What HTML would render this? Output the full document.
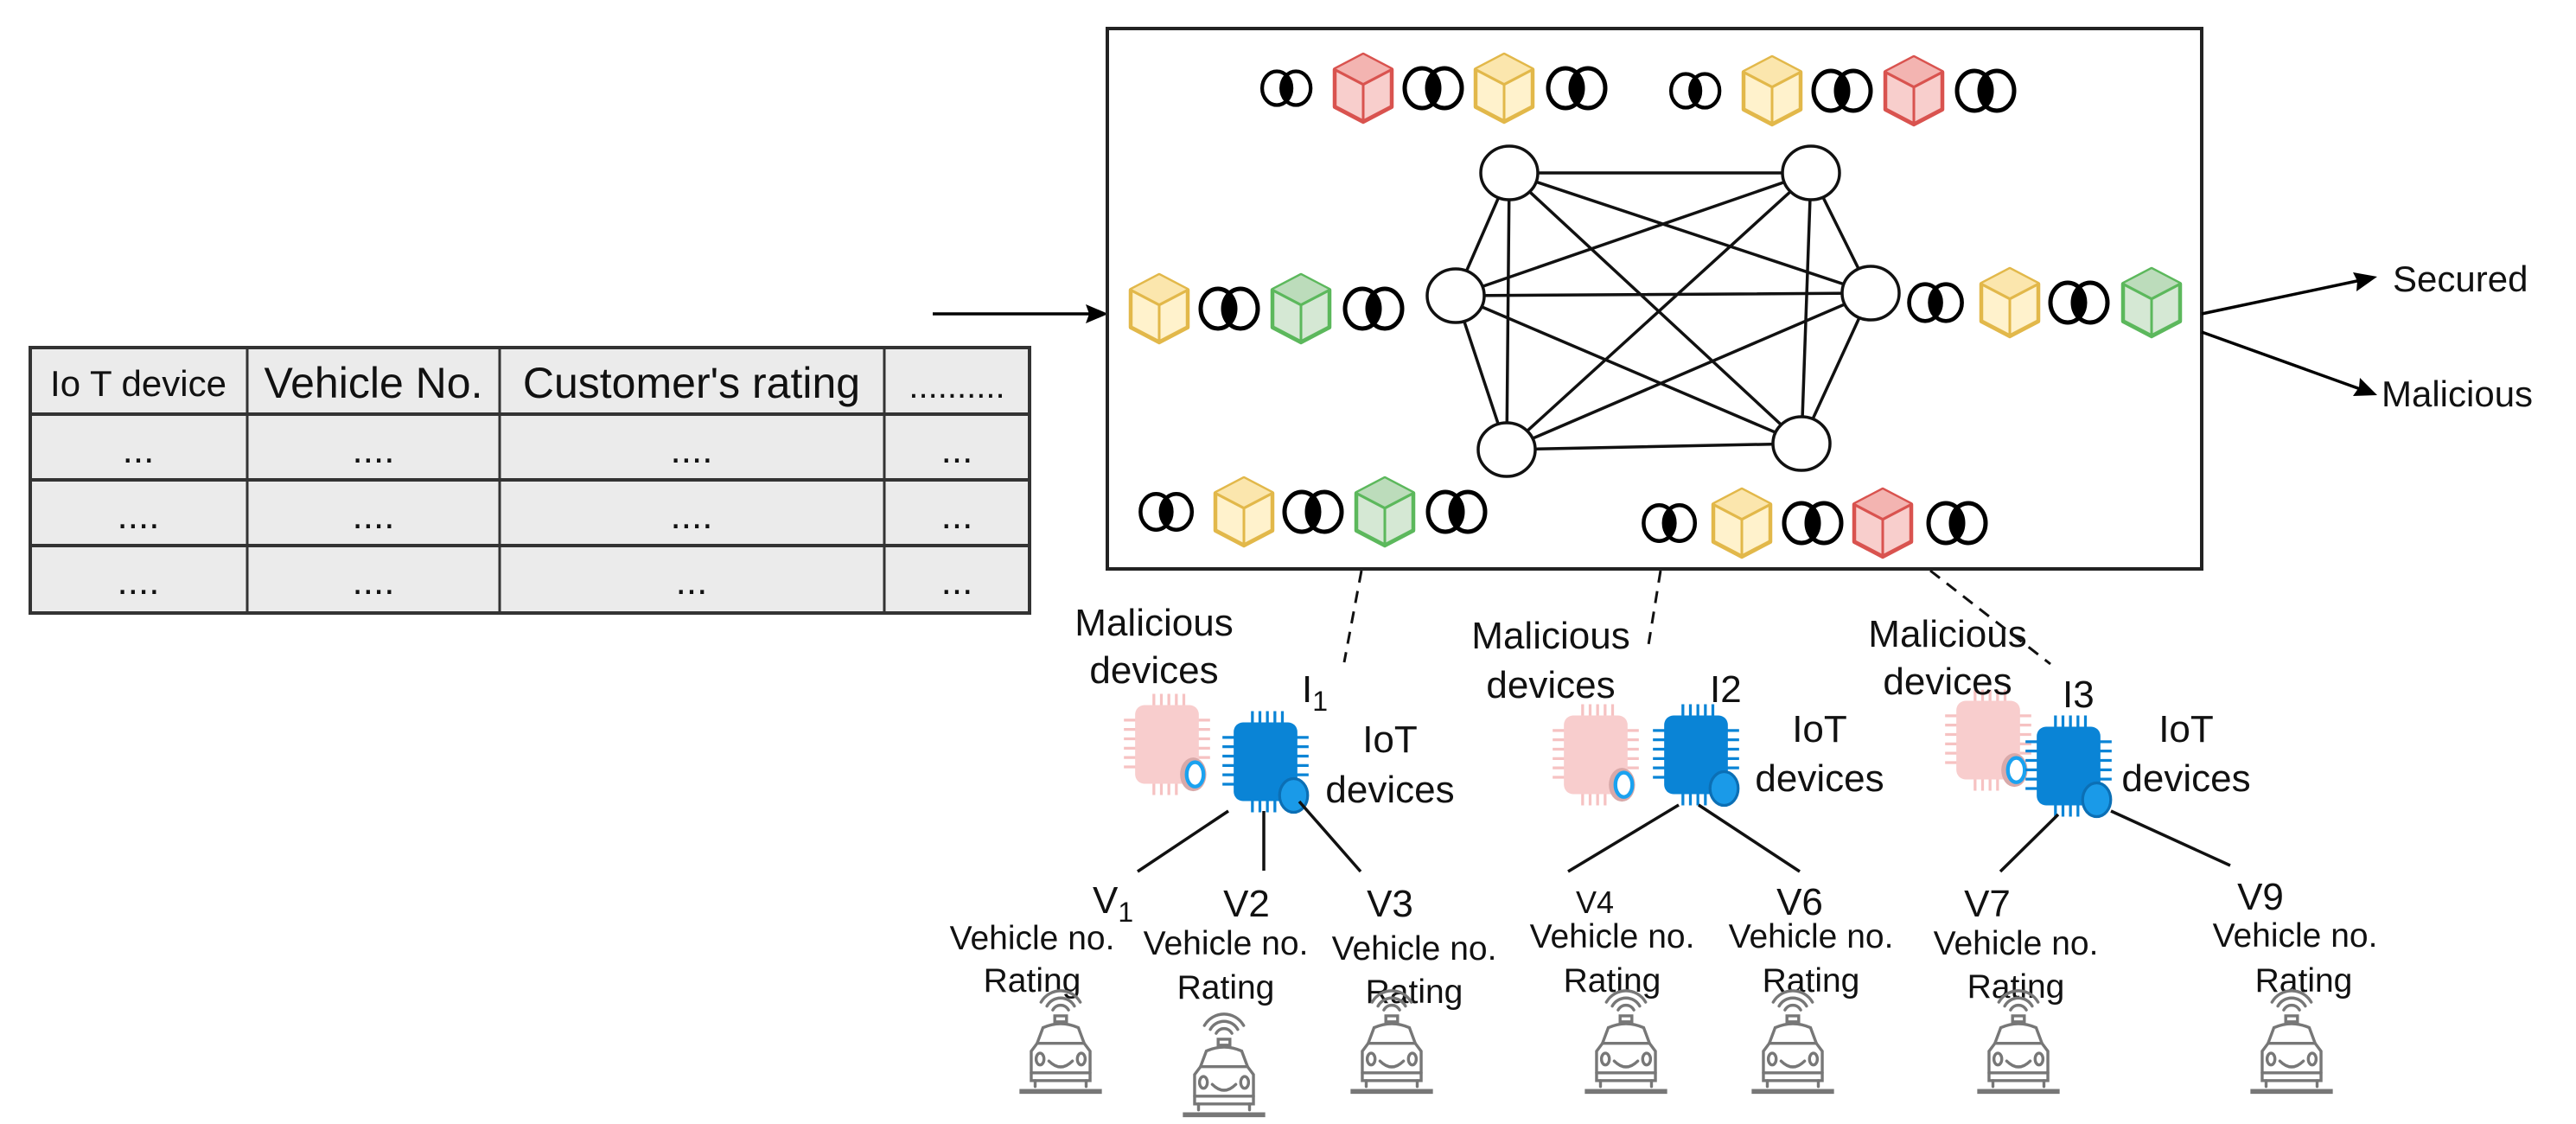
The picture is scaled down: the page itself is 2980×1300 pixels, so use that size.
<!DOCTYPE html>
<html><head><meta charset="utf-8"><style>
html,body{margin:0;padding:0;background:#fff}
svg{display:block}
text{font-family:"Liberation Sans",Arial,sans-serif;fill:#111}
</style></head><body>
<svg width="2980" height="1300" viewBox="0 0 2980 1300" xmlns="http://www.w3.org/2000/svg">
<defs>
<symbol id="link" viewBox="0 0 80 48" overflow="visible">
 <clipPath id="ca"><ellipse cx="26" cy="24" rx="20" ry="23"/></clipPath>
 <ellipse cx="52" cy="24" rx="20" ry="23" fill="#000" clip-path="url(#ca)"/>
 <ellipse cx="26" cy="24" rx="20" ry="23" fill="none" stroke="#000" stroke-width="5"/>
 <ellipse cx="52" cy="24" rx="20" ry="23" fill="none" stroke="#000" stroke-width="5"/>
</symbol>
<symbol id="cr" viewBox="0 0 72 78" overflow="visible" preserveAspectRatio="none">
 <path d="M36 3 L69 19 L69 59 L36 75 L3 59 L3 19 Z" fill="#f8cecc" stroke="#d9534f" stroke-width="4.5" stroke-linejoin="round"/>
 <path d="M36 3 L69 19 L36 35 L3 19 Z" fill="#f3b4b1"/>
 <path d="M3 19 L36 35 L69 19 M36 35 L36 75" fill="none" stroke="#d9534f" stroke-width="3"/>
</symbol>
<symbol id="cy" viewBox="0 0 72 78" overflow="visible" preserveAspectRatio="none">
 <path d="M36 3 L69 19 L69 59 L36 75 L3 59 L3 19 Z" fill="#fff2cc" stroke="#e2b84a" stroke-width="4.5" stroke-linejoin="round"/>
 <path d="M36 3 L69 19 L36 35 L3 19 Z" fill="#fbe6ad"/>
 <path d="M3 19 L36 35 L69 19 M36 35 L36 75" fill="none" stroke="#e2b84a" stroke-width="3"/>
</symbol>
<symbol id="cg" viewBox="0 0 72 78" overflow="visible" preserveAspectRatio="none">
 <path d="M36 3 L69 19 L69 59 L36 75 L3 59 L3 19 Z" fill="#d5e8d4" stroke="#5cb85c" stroke-width="4.5" stroke-linejoin="round"/>
 <path d="M36 3 L69 19 L36 35 L3 19 Z" fill="#bcdcbb"/>
 <path d="M3 19 L36 35 L69 19 M36 35 L36 75" fill="none" stroke="#5cb85c" stroke-width="3"/>
</symbol>
<symbol id="chipb" viewBox="0 0 96 112" overflow="visible">
 <g stroke="#0a84d6" stroke-width="3">
  <path d="M34 2V16M42 2V16M50 2V16M58 2V16M66 2V16M34 96V110M42 96V110M50 96V110M58 96V110M2 30H16M2 40H16M2 50H16M2 60H16M2 70H16M2 80H16M80 30H94M80 40H94M80 50H94M80 60H94M80 70H94"/>
 </g>
 <rect x="14" y="14" width="68" height="84" rx="10" fill="#0a84d6"/>
 <ellipse cx="78" cy="92" rx="15" ry="18" fill="#1a9ae8" stroke="#0b6fb5" stroke-width="3"/>
</symbol>
<symbol id="chipp" viewBox="0 0 96 112" overflow="visible">
 <g stroke="#f6c2c2" stroke-width="3">
  <path d="M34 2V16M42 2V16M50 2V16M58 2V16M66 2V16M34 96V110M42 96V110M50 96V110M58 96V110M2 30H16M2 40H16M2 50H16M2 60H16M2 70H16M2 80H16M80 30H94M80 40H94M80 50H94M80 60H94M80 70H94"/>
 </g>
 <rect x="14" y="14" width="68" height="84" rx="10" fill="#f8cdcd"/>
 <ellipse cx="76" cy="88" rx="14" ry="18" fill="#d8a9a9"/>
 <ellipse cx="78" cy="88" rx="9" ry="13" fill="#fff" stroke="#1aa2f0" stroke-width="4"/>
</symbol>
<symbol id="car" viewBox="0 0 92 104" overflow="visible">
 <g fill="none" stroke="#777" stroke-width="3" stroke-linecap="round">
  <path d="M38 16 A9 9 0 0 1 54 16 M32 12 A16 16 0 0 1 60 12 M26 8 A23 23 0 0 1 66 8"/>
  <path d="M40 28 H52 V22 H40 Z"/>
  <path d="M16 88 V58 L22 50 L28 34 Q46 26 64 34 L70 50 L76 58 V88 Z"/>
  <path d="M22 50 H70 M16 80 H76"/>
  <ellipse cx="25" cy="66" rx="4" ry="6"/><ellipse cx="67" cy="66" rx="4" ry="6"/>
  <path d="M34 68 Q46 80 58 68"/>
  <path d="M20 88 V94 M72 88 V94"/>
 </g>
 <path d="M4 99 H88" stroke="#777" stroke-width="5"/>
</symbol>
</defs>

<!-- table -->
<rect x="35" y="402" width="1156" height="307" fill="#ebebeb" stroke="#333" stroke-width="4"/>
<g stroke="#333" stroke-width="4">
 <path d="M35 479H1191M35 555H1191M35 631H1191"/>
 <path d="M286 402V709M578 402V709M1023 402V709" stroke-width="3"/>
</g>
<g font-size="44" text-anchor="middle">
 <text x="160" y="458" font-size="42">Io T device</text>
 <text x="432" y="460" font-size="50">Vehicle No.</text>
 <text x="800" y="460" font-size="50">Customer's rating</text>
 <text x="1107" y="460" font-size="40">..........</text>
 <text x="160" y="535">...</text><text x="432" y="535">....</text><text x="800" y="535">....</text><text x="1107" y="535">...</text>
 <text x="160" y="611">....</text><text x="432" y="611">....</text><text x="800" y="611">....</text><text x="1107" y="611">...</text>
 <text x="160" y="687">....</text><text x="432" y="687">....</text><text x="800" y="687">...</text><text x="1107" y="687">...</text>
</g>

<!-- input arrow -->
<path d="M1079 363H1268" stroke="#000" stroke-width="3.5"/>
<path d="M1282 363 L1256 352 L1260 363 L1256 374 Z" fill="#000"/>

<!-- main box -->
<rect x="1281" y="33" width="1266" height="625" fill="#fff" stroke="#222" stroke-width="4"/>

<!-- output arrows -->
<path d="M2547 363 L2736 323" stroke="#000" stroke-width="3.5"/>
<path d="M2750 320 L2722 315 L2727 325 L2726 337 Z" fill="#000"/>
<path d="M2547 384 L2736 452" stroke="#000" stroke-width="3.5"/>
<path d="M2750 457 L2730 437 L2729 448 L2722 458 Z" fill="#000"/>
<text x="2768" y="337" font-size="42">Secured</text>
<text x="2755" y="470" font-size="42">Malicious</text>

<!-- network edges -->
<g stroke="#111" stroke-width="3.5">
 <path d="M1746 200L2095 200M1746 200L1684 342M1746 200L1743 520M1746 200L2164 339M1746 200L2084 513
 M2095 200L1684 342M2095 200L1743 520M2095 200L2164 339M2095 200L2084 513
 M1684 342L2164 339M1684 342L2084 513M1684 342L1743 520
 M2164 339L1743 520M2164 339L2084 513M1743 520L2084 513"/>
</g>
<g fill="#fff" stroke="#111" stroke-width="3.5">
 <ellipse cx="1746" cy="200" rx="33" ry="31"/>
 <ellipse cx="2095" cy="200" rx="33" ry="31"/>
 <ellipse cx="1684" cy="342" rx="33" ry="31"/>
 <ellipse cx="2164" cy="339" rx="33" ry="31"/>
 <ellipse cx="1743" cy="520" rx="33" ry="31"/>
 <ellipse cx="2084" cy="513" rx="33" ry="31"/>
</g>

<!-- chains -->
<use href="#link" x="1455" y="78" width="68" height="48"/>
<use href="#cr" x="1541" y="60" width="72" height="84"/>
<use href="#link" x="1619" y="78" width="80" height="48"/>
<use href="#cy" x="1704" y="60" width="72" height="84"/>
<use href="#link" x="1785" y="78" width="80" height="48"/>

<use href="#link" x="1928" y="81" width="68" height="48"/>
<use href="#cy" x="2014" y="63" width="72" height="84"/>
<use href="#link" x="2092" y="81" width="80" height="48"/>
<use href="#cr" x="2178" y="63" width="72" height="84"/>
<use href="#link" x="2258" y="81" width="80" height="48"/>

<use href="#cy" x="1305" y="315" width="72" height="84"/>
<use href="#link" x="1383" y="333" width="80" height="48"/>
<use href="#cg" x="1469" y="315" width="72" height="84"/>
<use href="#link" x="1550" y="333" width="80" height="48"/>

<use href="#link" x="2203" y="326" width="74" height="48"/>
<use href="#cy" x="2289" y="308" width="72" height="84"/>
<use href="#link" x="2366" y="326" width="80" height="48"/>
<use href="#cg" x="2453" y="308" width="72" height="84"/>

<use href="#link" x="1314" y="568" width="72" height="48"/>
<use href="#cy" x="1403" y="550" width="72" height="84"/>
<use href="#link" x="1480" y="568" width="80" height="48"/>
<use href="#cg" x="1566" y="550" width="72" height="84"/>
<use href="#link" x="1646" y="568" width="80" height="48"/>

<use href="#link" x="1896" y="581" width="72" height="48"/>
<use href="#cy" x="1979" y="563" width="72" height="84"/>
<use href="#link" x="2058" y="581" width="80" height="48"/>
<use href="#cr" x="2142" y="563" width="72" height="84"/>
<use href="#link" x="2225" y="581" width="80" height="48"/>

<!-- dashed connectors -->
<g stroke="#111" stroke-width="3" stroke-dasharray="14 10" fill="none">
 <path d="M1575 660 L1555 766"/>
 <path d="M1921 660 L1906 752"/>
 <path d="M2233 660 L2372 768"/>
</g>

<!-- chips -->
<use href="#chipp" x="1298" y="800" width="104" height="122"/>
<use href="#chipb" x="1412" y="820" width="104" height="122"/>
<use href="#chipp" x="1794" y="812" width="104" height="122"/>
<use href="#chipb" x="1910" y="812" width="104" height="122"/>
<use href="#chipp" x="2248" y="795" width="104" height="122"/>
<use href="#chipb" x="2341" y="825" width="104" height="122"/>

<!-- vehicle lines -->
<g stroke="#111" stroke-width="3.5">
 <path d="M1421 938L1316 1008M1462 938L1462 1007M1503 927L1574 1008"/>
 <path d="M1942 931L1814 1008M1965 931L2082 1008"/>
 <path d="M2381 942L2314 1008M2442 938L2580 1001"/>
</g>

<!-- labels -->
<g font-size="44" text-anchor="middle">
 <text x="1335" y="735">Malicious</text><text x="1335" y="790">devices</text>
 <text x="1794" y="750">Malicious</text><text x="1794" y="807">devices</text>
 <text x="2253" y="748">Malicious</text><text x="2253" y="803">devices</text>
 <text x="1608" y="870">IoT</text><text x="1608" y="928">devices</text>
 <text x="2105" y="858">IoT</text><text x="2105" y="915">devices</text>
 <text x="2529" y="858">IoT</text><text x="2529" y="915">devices</text>
</g>
<g font-size="44">
 <text x="1506" y="812">I<tspan font-size="32" dy="10">1</tspan></text>
 <text x="1978" y="812">I2</text>
 <text x="2386" y="818">I3</text>
 <text x="1264" y="1056">V<tspan font-size="32" dy="10">1</tspan></text>
</g>
<g font-size="44" text-anchor="middle">
 <text x="1442" y="1060">V2</text>
 <text x="1608" y="1060">V3</text>
 <text x="1845" y="1056" font-size="36">V4</text>
 <text x="2082" y="1058">V6</text>
 <text x="2299" y="1060">V7</text>
 <text x="2615" y="1052">V9</text>
</g>
<g font-size="39" text-anchor="middle">
 <text x="1194" y="1098">Vehicle no.</text><text x="1194" y="1147">Rating</text>
 <text x="1418" y="1104">Vehicle no.</text><text x="1418" y="1155">Rating</text>
 <text x="1636" y="1110">Vehicle no.</text><text x="1636" y="1160">Rating</text>
 <text x="1865" y="1096">Vehicle no.</text><text x="1865" y="1147">Rating</text>
 <text x="2095" y="1096">Vehicle no.</text><text x="2095" y="1147">Rating</text>
 <text x="2332" y="1104">Vehicle no.</text><text x="2332" y="1154">Rating</text>
 <text x="2655" y="1095">Vehicle no.</text><text x="2665" y="1147">Rating</text>
</g>

<!-- cars -->
<use href="#car" x="1167" y="1150" width="120" height="118"/>
<use href="#car" x="1356" y="1177" width="120" height="118"/>
<use href="#car" x="1550" y="1150" width="120" height="118"/>
<use href="#car" x="1821" y="1150" width="120" height="118"/>
<use href="#car" x="2014" y="1150" width="120" height="118"/>
<use href="#car" x="2275" y="1150" width="120" height="118"/>
<use href="#car" x="2591" y="1150" width="120" height="118"/>
</svg>
</body></html>
